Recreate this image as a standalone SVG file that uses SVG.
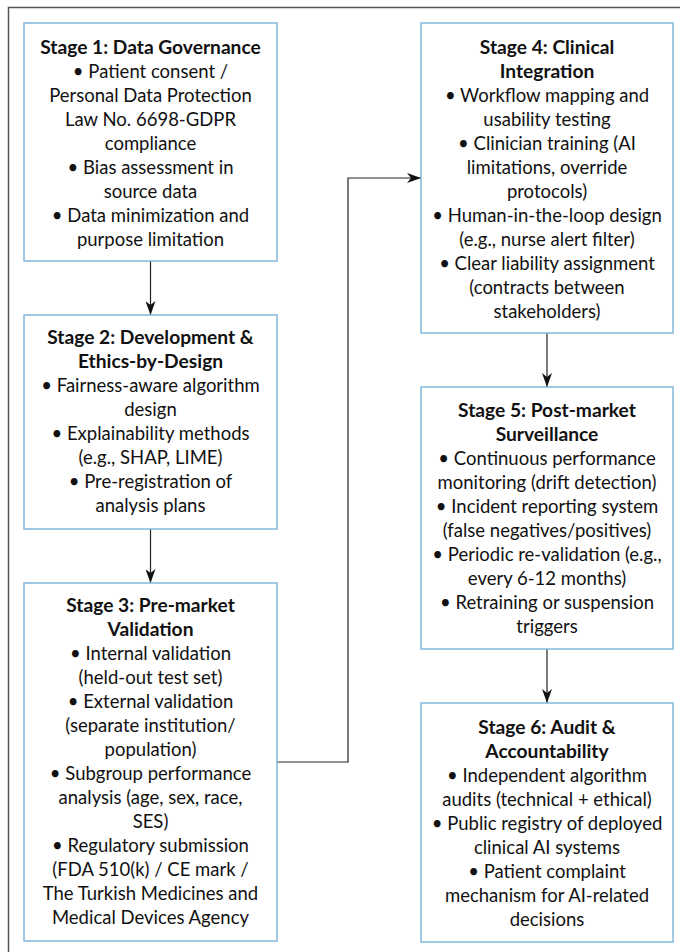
<svg xmlns="http://www.w3.org/2000/svg" width="680" height="952" viewBox="0 0 680 952">
<defs>
<marker id="ah" viewBox="0 0 14 10" refX="14" refY="5" markerWidth="14" markerHeight="10" markerUnits="userSpaceOnUse" orient="auto">
<path d="M0,0 L14,5 L0,10 L4,5 Z" fill="#111"/>
</marker>
</defs>
<style>
.box{fill:#fff;stroke:#7fb7dc;stroke-width:1.5}
.t{font-family:Lato,"Liberation Sans",sans-serif;font-size:18.5px;fill:#111;text-anchor:middle}
.b{font-weight:700;font-size:19.2px}
.c{fill:none;stroke:#222;stroke-width:1.2}
</style>
<rect x="0" y="0" width="680" height="952" fill="#fff"/>
<path d="M8.5,952 V7.5 H680" fill="none" stroke="#555" stroke-width="1.5"/>
<g id="connectors">
<path class="c" d="M150.5,261 V315" marker-end="url(#ah)"/>
<path class="c" d="M150.5,529 V583" marker-end="url(#ah)"/>
<path class="c" d="M277,762 H348 V178 H421" marker-end="url(#ah)"/>
<path class="c" d="M547,333 V387" marker-end="url(#ah)"/>
<path class="c" d="M547,649 V703" marker-end="url(#ah)"/>
</g>
<g id="stage1">
<rect class="box" x="24" y="23" width="253" height="238"/>
<text class="t" x="150.5"><tspan class="b" x="150.5" y="54">Stage 1: Data Governance</tspan><tspan x="150.5" y="78">• Patient consent /</tspan><tspan x="150.5" y="102">Personal Data Protection</tspan><tspan x="150.5" y="126">Law No. 6698-GDPR</tspan><tspan x="150.5" y="150">compliance</tspan><tspan x="150.5" y="174">• Bias assessment in</tspan><tspan x="150.5" y="198">source data</tspan><tspan x="150.5" y="222">• Data minimization and</tspan><tspan x="150.5" y="246">purpose limitation</tspan></text>
</g>
<g id="stage2">
<rect class="box" x="24" y="315" width="253" height="214"/>
<text class="t"><tspan class="b" x="150.5" y="344">Stage 2: Development &amp;</tspan><tspan class="b" x="150.5" y="368">Ethics-by-Design</tspan><tspan x="150.5" y="392">• Fairness-aware algorithm</tspan><tspan x="150.5" y="416">design</tspan><tspan x="150.5" y="440">• Explainability methods</tspan><tspan x="150.5" y="464">(e.g., SHAP, LIME)</tspan><tspan x="150.5" y="488">• Pre-registration of</tspan><tspan x="150.5" y="512">analysis plans</tspan></text>
</g>
<g id="stage3">
<rect class="box" x="24" y="583" width="253" height="358"/>
<text class="t"><tspan class="b" x="150.5" y="612">Stage 3: Pre-market</tspan><tspan class="b" x="150.5" y="636">Validation</tspan><tspan x="150.5" y="660">• Internal validation</tspan><tspan x="150.5" y="684">(held-out test set)</tspan><tspan x="150.5" y="708">• External validation</tspan><tspan x="150.5" y="732">(separate institution/</tspan><tspan x="150.5" y="756">population)</tspan><tspan x="150.5" y="780">• Subgroup performance</tspan><tspan x="150.5" y="804">analysis (age, sex, race,</tspan><tspan x="150.5" y="828">SES)</tspan><tspan x="150.5" y="852">• Regulatory submission</tspan><tspan x="150.5" y="876">(FDA 510(k) / CE mark /</tspan><tspan x="150.5" y="900">The Turkish Medicines and</tspan><tspan x="150.5" y="924">Medical Devices Agency</tspan></text>
</g>
<g id="stage4">
<rect class="box" x="421" y="23" width="252" height="310"/>
<text class="t"><tspan class="b" x="547" y="54">Stage 4: Clinical</tspan><tspan class="b" x="547" y="78">Integration</tspan><tspan x="547" y="102">• Workflow mapping and</tspan><tspan x="547" y="126">usability testing</tspan><tspan x="547" y="150">• Clinician training (AI</tspan><tspan x="547" y="174">limitations, override</tspan><tspan x="547" y="198">protocols)</tspan><tspan x="547" y="222">• Human-in-the-loop design</tspan><tspan x="547" y="246">(e.g., nurse alert filter)</tspan><tspan x="547" y="270">• Clear liability assignment</tspan><tspan x="547" y="294">(contracts between</tspan><tspan x="547" y="318">stakeholders)</tspan></text>
</g>
<g id="stage5">
<rect class="box" x="421" y="387" width="252" height="262"/>
<text class="t"><tspan class="b" x="547" y="417">Stage 5: Post-market</tspan><tspan class="b" x="547" y="441">Surveillance</tspan><tspan x="547" y="465">• Continuous performance</tspan><tspan x="547" y="489">monitoring (drift detection)</tspan><tspan x="547" y="513">• Incident reporting system</tspan><tspan x="547" y="537">(false negatives/positives)</tspan><tspan x="547" y="561">• Periodic re-validation (e.g.,</tspan><tspan x="547" y="585">every 6-12 months)</tspan><tspan x="547" y="609">• Retraining or suspension</tspan><tspan x="547" y="633">triggers</tspan></text>
</g>
<g id="stage6">
<rect class="box" x="421" y="703" width="252" height="239"/>
<text class="t"><tspan class="b" x="547" y="734">Stage 6: Audit &amp;</tspan><tspan class="b" x="547" y="758">Accountability</tspan><tspan x="547" y="782">• Independent algorithm</tspan><tspan x="547" y="806">audits (technical + ethical)</tspan><tspan x="547" y="830">• Public registry of deployed</tspan><tspan x="547" y="854">clinical AI systems</tspan><tspan x="547" y="878">• Patient complaint</tspan><tspan x="547" y="902">mechanism for AI-related</tspan><tspan x="547" y="926">decisions</tspan></text>
</g>
</svg>
